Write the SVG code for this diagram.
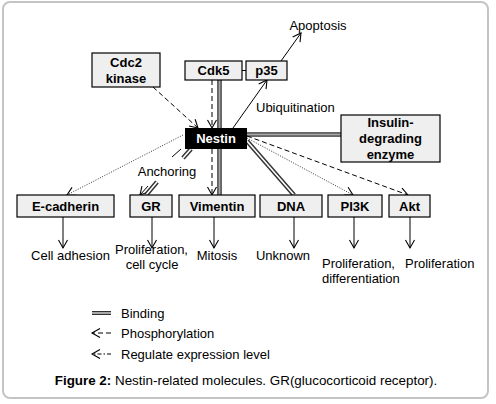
<svg xmlns="http://www.w3.org/2000/svg" width="496" height="404" viewBox="0 0 496 404">
<defs>
<marker id="ah" markerUnits="userSpaceOnUse" markerWidth="12" markerHeight="12" viewBox="-10 -6 12 12" refX="0" refY="0" orient="auto">
<path d="M-8,-4.5 L0,0 L-8,4.5" fill="none" stroke="#000" stroke-width="1.1"/>
</marker>
<style>
.box{fill:#efefef;stroke:#000;stroke-width:1.2}
.t{font-family:"Liberation Sans",Arial,sans-serif;font-size:13px;fill:#000}
.b{font-weight:bold}
.c{text-anchor:middle}
.ln{fill:none;stroke:#000;stroke-width:1}
.arr{fill:none;stroke:#000;stroke-width:1;marker-end:url(#ah)}
.dash{stroke-dasharray:5,3}
.dot{stroke:#333;stroke-dasharray:1,1.5}
.bo{fill:none;stroke:#333;stroke-width:4.5}
.bi{fill:none;stroke:#a8a8a8;stroke-width:2}
.bw{fill:none;stroke:#fff;stroke-width:1.6}
</style>
</defs>
<rect x="3" y="2" width="485" height="396" rx="7" fill="#fff" stroke="#c4c4c4" stroke-width="2"/>

<g id="connectors">
<line class="ln" x1="242" y1="70.5" x2="246" y2="70.5"/>
<line class="arr" x1="281" y1="61" x2="301" y2="33"/>
<line class="arr dash" x1="153" y1="87" x2="198" y2="128"/>
<line class="arr dash" x1="212" y1="80" x2="212" y2="128"/>
<line class="bo" x1="219.5" y1="80" x2="219.5" y2="195"/>
<line class="bi" x1="219.5" y1="80" x2="219.5" y2="195"/>
<line class="arr" x1="233" y1="128" x2="267" y2="80"/>
<line class="bo" x1="247" y1="134.5" x2="341" y2="134.5"/>
<line class="bi" x1="247" y1="134.5" x2="341" y2="134.5"/>
<line class="bo" x1="247" y1="141" x2="294" y2="195"/>
<line class="bw" x1="247" y1="141" x2="294" y2="195"/>
<line class="arr dot" x1="183" y1="135" x2="67" y2="195"/>
<line class="arr dash" x1="212" y1="149" x2="212" y2="195"/>
<line class="arr dot" x1="247" y1="138" x2="353" y2="195"/>
<line class="arr dash" x1="247" y1="136" x2="408" y2="195"/>
<line class="ln" x1="181" y1="149" x2="172" y2="157"/>
<line class="arr" x1="148" y1="186" x2="140" y2="195"/>
<line class="bo" x1="191" y1="149" x2="183" y2="158"/>
<line class="bw" x1="191" y1="149" x2="183" y2="158"/>
<line class="bo" x1="157" y1="182" x2="146" y2="195"/>
<line class="bw" x1="157" y1="182" x2="146" y2="195"/>
<line class="arr" x1="63" y1="217" x2="63" y2="248"/>
<line class="arr" x1="152" y1="217" x2="152" y2="248"/>
<line class="arr" x1="214" y1="217" x2="214" y2="248"/>
<line class="arr" x1="294" y1="217" x2="294" y2="248"/>
<line class="arr" x1="354" y1="217" x2="354" y2="248"/>
<line class="arr" x1="410" y1="217" x2="410" y2="248"/>
</g>

<g id="cdc2"><rect class="box" x="92" y="53" width="68" height="34"/><text class="t b c" x="126" y="66.5">Cdc2</text><text class="t b c" x="126" y="82.5">kinase</text></g>
<g id="cdk5"><rect class="box" x="185" y="61" width="57" height="19"/><text class="t b c" x="213.5" y="75">Cdk5</text></g>
<g id="p35"><rect class="box" x="246" y="61" width="41" height="19"/><text class="t b c" x="266.5" y="75">p35</text></g>
<g id="ide"><rect class="box" x="341" y="115" width="99" height="47"/><text class="t b c" x="390.5" y="127">Insulin-</text><text class="t b c" x="390.5" y="143">degrading</text><text class="t b c" x="390.5" y="158.5">enzyme</text></g>
<g id="nestin"><rect x="185" y="128" width="62" height="21" fill="#000"/><text class="t b c" x="216" y="143" style="fill:#fff">Nestin</text></g>
<g id="ecad"><rect class="box" x="17" y="195" width="97" height="22"/><text class="t b c" x="65.5" y="210.5">E-cadherin</text></g>
<g id="gr"><rect class="box" x="130" y="195" width="42" height="22"/><text class="t b c" x="151" y="210.5">GR</text></g>
<g id="vim"><rect class="box" x="179" y="195" width="76" height="22"/><text class="t b c" x="217" y="210.5">Vimentin</text></g>
<g id="dna"><rect class="box" x="260" y="195" width="62" height="22"/><text class="t b c" x="291" y="210.5">DNA</text></g>
<g id="pi3k"><rect class="box" x="328" y="195" width="54" height="22"/><text class="t b c" x="355" y="210.5">PI3K</text></g>
<g id="akt"><rect class="box" x="389" y="195" width="41" height="22"/><text class="t b c" x="409.5" y="210.5">Akt</text></g>

<g id="labels">
<text class="t c" x="318" y="29.5">Apoptosis</text>
<text class="t" x="256" y="111.5">Ubiquitination</text>
<text class="t c" x="167" y="175.5">Anchoring</text>
<text class="t c" x="70.5" y="259.5">Cell adhesion</text>
<text class="t c" x="151.5" y="253.5">Proliferation,</text>
<text class="t c" x="152" y="268.5">cell cycle</text>
<text class="t c" x="217" y="259.5">Mitosis</text>
<text class="t c" x="283" y="259.5">Unknown</text>
<text class="t" x="322" y="267.5">Proliferation,</text>
<text class="t" x="322" y="282.5">differentiation</text>
<text class="t" x="405" y="267.5">Proliferation</text>
</g>

<g id="legend">
<line class="bo" x1="92" y1="313" x2="111" y2="313" style="stroke-width:4"/>
<line class="bi" x1="92" y1="313" x2="111" y2="313"/>
<text class="t" x="121" y="317.5">Binding</text>
<line class="arr dash" x1="111" y1="333" x2="92" y2="333"/>
<text class="t" x="121" y="337.5">Phosphorylation</text>
<line class="arr" x1="111" y1="354" x2="92" y2="354" style="stroke-dasharray:4,2,1.5,2"/>
<text class="t" x="121" y="358.5">Regulate expression level</text>
</g>
<text class="t c" x="246" y="384.5" style="font-size:13.4px"><tspan font-weight="bold">Figure 2:</tspan> Nestin-related molecules. GR(glucocorticoid receptor).</text>
</svg>
